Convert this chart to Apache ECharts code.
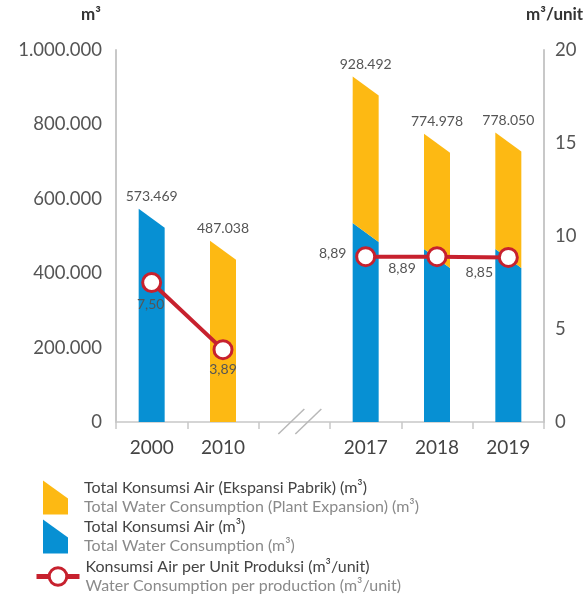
<!DOCTYPE html>
<html><head><meta charset="utf-8">
<script src="https://cdn.jsdelivr.net/npm/echarts@6/dist/echarts.min.js"></script>
<style>html,body{margin:0;padding:0;background:#fff}#c{width:586px;height:594px}</style>
</head><body><div id="c"></div>
<script>
// ---- data ----
const categories = ['2000', '2010', '', '2017', '2018', '2019'];
const totalValues = [573469, 487038, null, 928492, 774978, 778050];      // labelled totals
const baseValues = [573469, null, null, 535000, 465000, 465000];          // Total Konsumsi Air (blue)
const perUnitValues = [7.50, 3.89, null, 8.89, 8.89, 8.85];               // m3/unit
const leftTicks = [0, 200000, 400000, 600000, 800000, 1000000];
const rightTicks = [0, 5, 10, 15, 20];

const S_ORANGE = 'Total Konsumsi Air (Ekspansi Pabrik) (m³)';
const S_BLUE = 'Total Konsumsi Air (m³)';
const S_LINE = 'Konsumsi Air per Unit Produksi (m³/unit)';
const EN = {};
EN[S_ORANGE] = 'Total Water Consumption (Plant Expansion) (m³)';
EN[S_BLUE] = 'Total Water Consumption (m³)';
EN[S_LINE] = 'Water Consumption per production (m³/unit)';

// ---- styles ----
const BLUE = '#0790D3', ORANGE = '#FDB913', RED = '#C7212E';
const FONT = 'Lato';
const BAR_W = 26, SLANT = 19;
const lineLabelOffsets = [[-1, 22], [0, 20], null, [-33, -3], [-35, 12], [-29, 15]];

const fmtThousands = v => String(v).replace(/\B(?=(\d{3})+(?!\d))/g, '.');
const fmtDec = v => v.toFixed(2).replace('.', ',');

// build custom-series data
const blueData = [], orangeData = [];
categories.forEach((c, i) => {
  const b = baseValues[i], t = totalValues[i];
  if (b != null) blueData.push([i, 0, b, (t == null || t === b) ? 1 : 0]);
  if (t != null && (b == null || t > b)) orangeData.push([i, b == null ? 0 : b, t, 1]);
});

function renderBar(params, api) {
  const i = api.value(0), lo = api.value(1), hi = api.value(2), lab = api.value(3);
  const pTop = api.coord([i, hi]);
  const pLo = api.coord([i, lo]);
  const x0 = pTop[0] - BAR_W / 2, x1 = pTop[0] + BAR_W / 2;
  const yT = pTop[1], yL = pLo[1];
  const bs = lo > 0 ? SLANT : 0;
  const children = [{
    type: 'polygon',
    shape: { points: [[x0, yT], [x1, yT + SLANT], [x1, yL + bs], [x0, yL]] },
    style: { fill: api.visual('color') }
  }];
  if (lab) {
    children.push({
      type: 'text',
      style: {
        text: fmtThousands(hi), x: pTop[0], y: yT - 5,
        align: 'center', verticalAlign: 'bottom',
        fill: '#555', font: '14px ' + FONT
      }
    });
  }
  return { type: 'group', children };
}

function rich(pad) {
  return {
    a: { fontFamily: FONT, fontSize: 16, color: '#444', lineHeight: 19, padding: [0, 0, 0, pad] },
    b: { fontFamily: FONT, fontSize: 16, color: '#8a8a8a', lineHeight: 19, padding: [0, 0, 0, pad] }
  };
}
const legFmt = n => '{a|' + n + '}\n{b|' + EN[n] + '}';
const barIcon = 'path://M0,0L25,18L25,34L0,34Z';

const chart = echarts.init(document.getElementById('c'), null, { renderer: 'canvas' });
const option = {
  animation: false,
  backgroundColor: '#fff',
  textStyle: { fontFamily: FONT },
  grid: { left: 116, right: 42, top: 50, bottom: 172 },
  legend: [
    { data: [{ name: S_ORANGE, icon: barIcon }], left: 43, top: 480, padding: 0, orient: 'vertical',
      itemWidth: 25, itemHeight: 34, selectedMode: false, formatter: legFmt, textStyle: { rich: rich(11) } },
    { data: [{ name: S_BLUE, icon: barIcon }], left: 43, top: 519, padding: 0, orient: 'vertical',
      itemWidth: 25, itemHeight: 34, selectedMode: false, formatter: legFmt, textStyle: { rich: rich(11) } },
    { data: [{ name: S_LINE }], left: 34, top: 559, padding: 0, orient: 'vertical',
      itemWidth: 43, itemHeight: 22, selectedMode: false, formatter: legFmt, textStyle: { rich: rich(1) },
      lineStyle: { width: 5 }, itemStyle: { borderWidth: 3 } }
  ],
  xAxis: {
    type: 'category', data: categories,
    axisLine: { lineStyle: { color: '#c8c8c8', width: 1.5 } },
    axisTick: { show: true, length: 7, lineStyle: { color: '#c8c8c8', width: 1.5 } },
    axisLabel: { fontFamily: FONT, fontSize: 19, color: '#444', margin: 16 }
  },
  yAxis: [
    { type: 'value', min: leftTicks[0], max: leftTicks[leftTicks.length - 1], interval: leftTicks[1] - leftTicks[0],
      axisLine: { show: true, lineStyle: { color: '#c8c8c8', width: 2 } },
      axisTick: { show: false }, splitLine: { show: false },
      axisLabel: { fontFamily: FONT, fontSize: 18.5, color: '#555', margin: 14, formatter: v => fmtThousands(v) } },
    { type: 'value', position: 'right', min: rightTicks[0], max: rightTicks[rightTicks.length - 1], interval: rightTicks[1] - rightTicks[0],
      axisLine: { show: true, lineStyle: { color: '#c8c8c8', width: 2 } },
      axisTick: { show: false }, splitLine: { show: false },
      axisLabel: { fontFamily: FONT, fontSize: 18.5, color: '#555', margin: 11 } }
  ],
  series: [
    { name: S_BLUE, type: 'custom', renderItem: renderBar, data: blueData,
      itemStyle: { color: BLUE }, encode: { x: 0, y: [1, 2] }, z: 2 },
    { name: S_ORANGE, type: 'custom', renderItem: renderBar, data: orangeData,
      itemStyle: { color: ORANGE }, encode: { x: 0, y: [1, 2] }, z: 2 },
    { name: S_LINE, type: 'line', yAxisIndex: 1, z: 5,
      data: perUnitValues.map((v, i) => v == null ? null : {
        value: v,
        label: { show: true, position: 'inside', offset: lineLabelOffsets[i],
          formatter: p => fmtDec(p.value), fontFamily: FONT, fontSize: 14, color: '#555' }
      }),
      symbol: 'circle', symbolSize: 18,
      lineStyle: { color: RED, width: 4 },
      itemStyle: { color: '#fff', borderColor: RED, borderWidth: 3 } }
  ],
  graphic: [
    { type: 'text', right: 485, top: 6, style: { text: 'm³', font: 'bold 17px ' + FONT, fill: '#333' } },
    { type: 'text', left: 526, top: 6, style: { text: 'm³/unit', font: 'bold 17px ' + FONT, fill: '#333' } }
  ]
};
chart.setOption(option);

// axis break marker at the empty category
const gapIdx = categories.indexOf('');
const gp = chart.convertToPixel({ xAxisIndex: 0, yAxisIndex: 0 }, [gapIdx, 0]);
chart.setOption({
  graphic: option.graphic.concat([
    { type: 'line', shape: { x1: gp[0] - 16, y1: gp[1] + 12, x2: gp[0] + 10, y2: gp[1] - 13 },
      style: { stroke: '#b8b8b8', lineWidth: 1.5 }, z: 10 },
    { type: 'line', shape: { x1: gp[0] + 1, y1: gp[1] + 12, x2: gp[0] + 27, y2: gp[1] - 13 },
      style: { stroke: '#b8b8b8', lineWidth: 1.5 }, z: 10 }
  ])
});
</script>
</body></html>
